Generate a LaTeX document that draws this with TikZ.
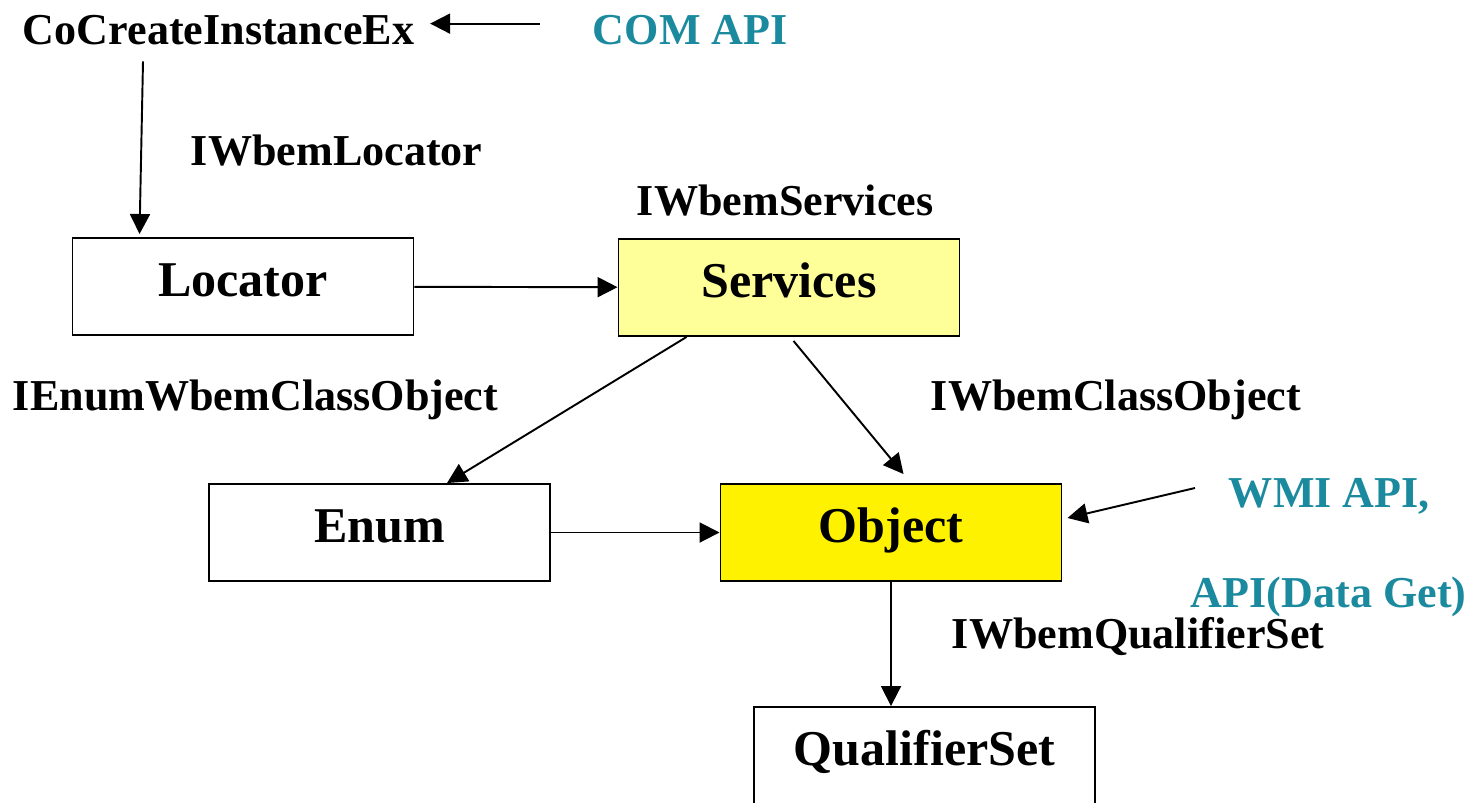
\documentclass[tikz,border=0pt]{standalone}
\usepackage{fontspec}
\setmainfont{Liberation Serif}
\usetikzlibrary{arrows.meta}
\definecolor{apiteal}{RGB}{27,138,158}
\definecolor{paleyellow}{RGB}{255,255,153}
\tikzset{
  box/.style={draw, line width=1.1pt, minimum width=6.82cm, minimum height=1.94cm,
    text height=0.8cm, text depth=0.42cm, font=\fontsize{28.5}{32}\selectfont\bfseries},
  lbl/.style={inner sep=0pt, anchor=base west, font=\fontsize{25.1}{30}\selectfont\bfseries},
  api/.style={lbl, text=apiteal},
}
\begin{document}
\begin{tikzpicture}[line width=1.1pt, >={Triangle[length=0.4cm,width=0.4cm]}]
        \useasboundingbox (0,0) rectangle (29.54,-16.04);
        \node[lbl] (CoC) at (0.44,-0.88) {CoCreateInstanceEx};
        \node[api] (COM) at (11.84,-0.88) {COM API};
        \node[lbl] (LocI) at (3.8,-3.3) {IWbemLocator};
        \node[lbl] (SrvI) at (12.72,-4.3) {IWbemServices};
        \node[lbl] (EnumI) at (0.24,-8.2) {IEnumWbemClassObject};
        \node[lbl] (ObjI) at (18.6,-8.2) {IWbemClassObject};
        \node[api] (WMI) at (24.56,-10.14) {WMI API,};
        \node[api] (Get) at (23.8,-12.14) {API(Data Get)};
        \node[lbl] (QsI) at (19.02,-12.96) {IWbemQualifierSet};
        \node[box] (Loc) at (4.86,-5.73) {Locator};
        \node[box, fill=paleyellow] (Srv) at (15.78,-5.75) {Services};
        \node[box] (Enum) at (7.59,-10.65) {Enum};
        \node[box, fill=yellow] (Obj) at (17.82,-10.65) {Object};
        \node[box] (Qs) at (18.49,-15.11) {QualifierSet};
        \draw[->] ([xshift=-1.04cm,yshift=0.12cm]COM.west) -- ([xshift=0.3cm,yshift=0.12cm]CoC.east);
        \draw[->] ([xshift=2.42cm,yshift=-0.32cm]CoC.south west) -- ([xshift=1.36cm,yshift=0.06cm]Loc.north west);
        \draw[->] (Loc) -- (Srv);
        \draw[->] ([xshift=1.38cm]Srv.south west) -- ([xshift=4.78cm]Enum.north west);
        \draw[->] ([xshift=3.52cm,yshift=-0.08cm]Srv.south west) -- ([xshift=3.68cm,yshift=0.18cm]Obj.north west);
        \draw[->] (Enum) -- (Obj);
        \draw[->] ([xshift=-0.66cm,yshift=0.38cm]WMI.base west) -- ([xshift=0.1cm,yshift=0.29cm]Obj.east);
        \draw[->] (Obj) -- (Obj |- Qs.north);
    \end{tikzpicture}
\end{document}
